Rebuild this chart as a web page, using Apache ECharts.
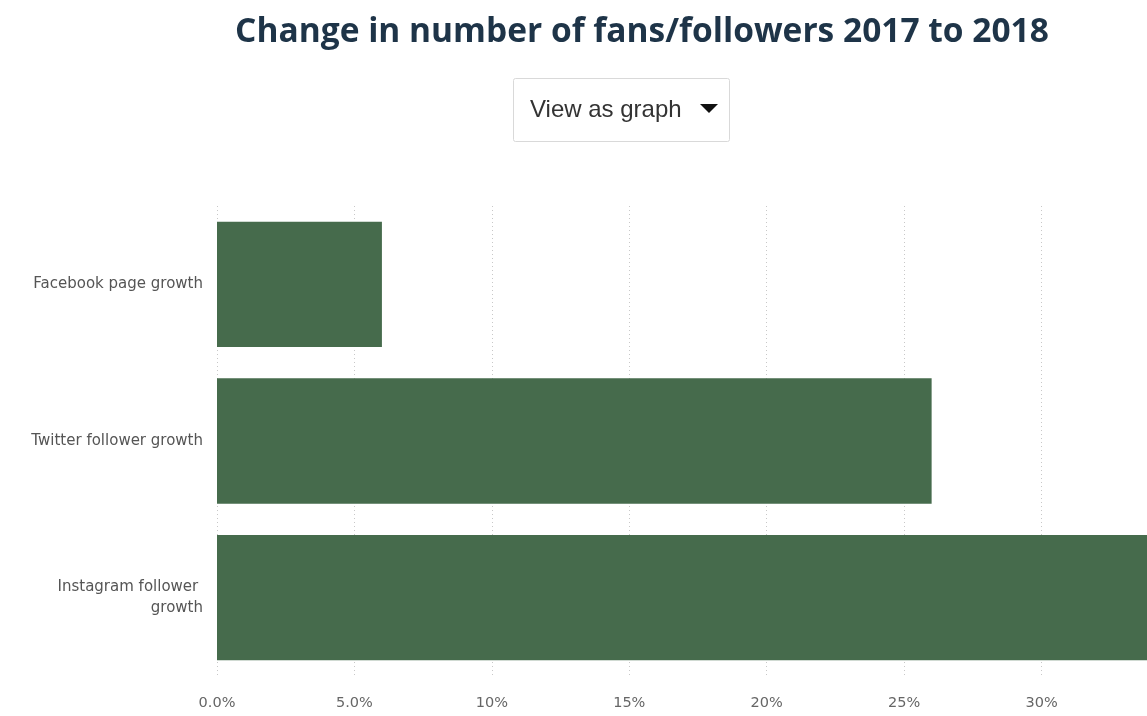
<!DOCTYPE html>
<html>
<head>
<meta charset="utf-8">
<script src="https://cdn.jsdelivr.net/npm/echarts@6/dist/echarts.min.js"></script>
<style>
  html, body { margin: 0; padding: 0; background: #fff; }
  #chart { width: 1147px; height: 716px; }
</style>
</head>
<body>
<div id="chart"></div>
<script>
// data
const categories = ['Facebook page growth', 'Twitter follower growth', 'Instagram follower growth']
const growth = [6.0, 26.0, 35.0]
const tickLabels = ['0.0%', '5.0%', '10%', '15%', '20%', '25%', '30%', '35%']

const chart = echarts.init(document.getElementById('chart'))

const option = {
  backgroundColor: '#fff',
  animation: false,
  title: {
    text: 'Change in number of fans/followers 2017 to 2018',
    left: 637,
    textAlign: 'center',
    top: 10,
    textStyle: {
      fontFamily: 'Open Sans',
      fontWeight: 'bold',
      fontSize: 33.5,
      color: '#1e3448'
    }
  },
  graphic: [
    {
      type: 'rect',
      shape: { x: 513.5, y: 78.5, width: 216, height: 63, r: 2 },
      style: { fill: '#fff', stroke: '#d9d9d9', lineWidth: 1 }
    },
    {
      type: 'text',
      x: 530,
      y: 110,
      style: {
        text: 'View as graph',
        fontFamily: 'Liberation Sans',
        fontSize: 24,
        fill: '#333',
        verticalAlign: 'middle'
      }
    },
    {
      type: 'polygon',
      shape: { points: [[700, 104], [718, 104], [709, 113]] },
      style: { fill: '#111' }
    }
  ],
  grid: {
    left: 217,
    width: 962,
    top: 206,
    bottom: 40,
    outerBoundsMode: 'none'
  },
  xAxis: {
    type: 'value',
    min: 0,
    max: 35,
    interval: 5,
    axisLine: { show: false },
    axisTick: { show: false },
    axisLabel: {
      margin: 20,
      fontFamily: 'DejaVu Sans',
      fontSize: 14.5,
      color: '#666',
      formatter: (v) => tickLabels[Math.round(v / 5)]
    },
    splitLine: {
      show: true,
      lineStyle: { type: [1, 3], color: '#c8c8c8', width: 1 }
    }
  },
  yAxis: {
    type: 'category',
    inverse: true,
    data: categories,
    axisLine: { show: false },
    axisTick: { show: false },
    axisLabel: {
      margin: 14,
      fontFamily: 'DejaVu Sans',
      fontSize: 15,
      color: '#555',
      width: 182,
      overflow: 'break',
      lineHeight: 21,
      align: 'right'
    }
  },
  series: [
    {
      type: 'bar',
      data: growth,
      barCategoryGap: '20%',
      itemStyle: { color: '#466b4c' }
    }
  ]
}

chart.setOption(option)
</script>
</body>
</html>
